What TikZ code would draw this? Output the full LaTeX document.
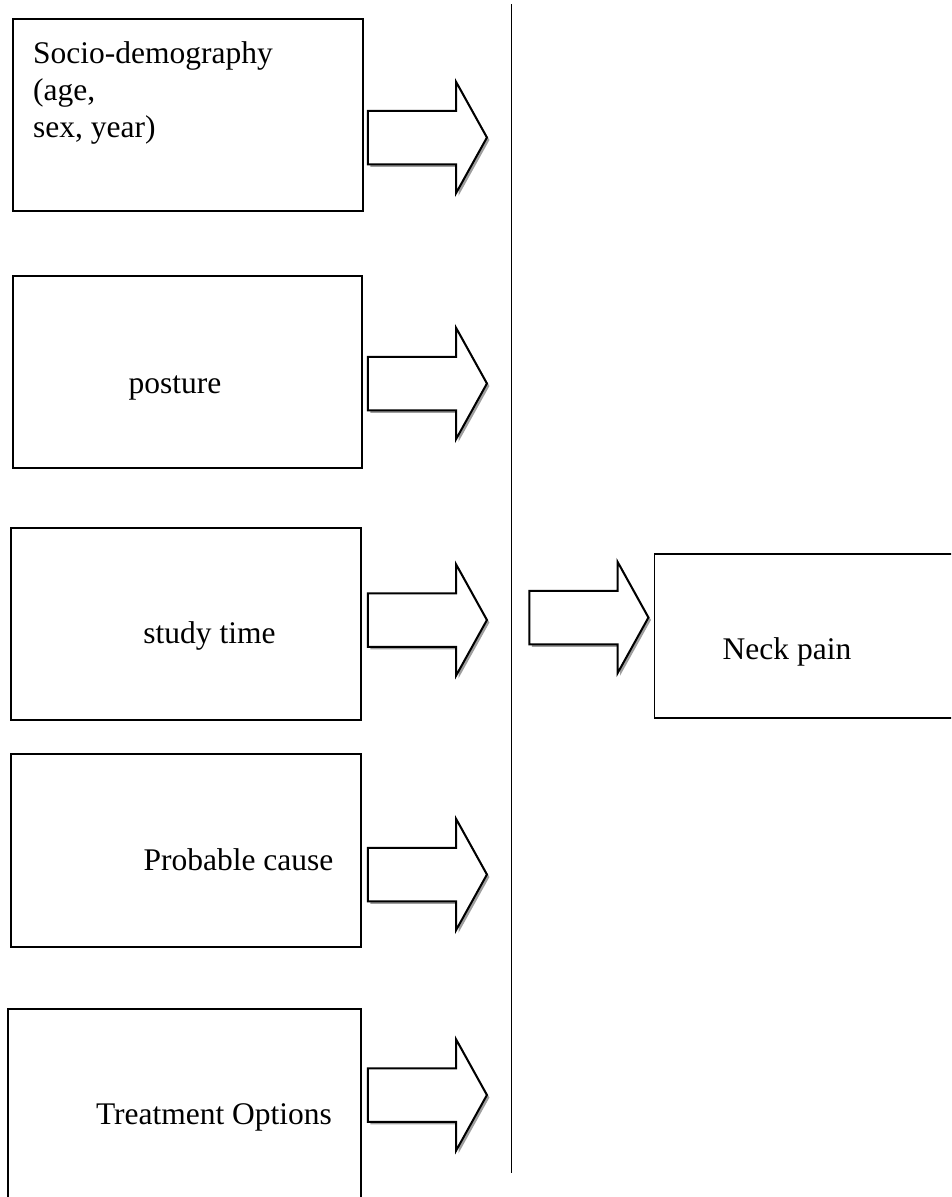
\documentclass[tikz,border=0pt]{standalone}
\usepackage{fontspec}
\setmainfont{Liberation Serif}
\usetikzlibrary{shapes.arrows,shadows}

\begin{document}
\begin{tikzpicture}[x=1pt,y=-1pt,
    factorbox/.style={draw,line width=1.5pt,rectangle,inner sep=0pt,anchor=north west},
    lbl/.style={inner sep=0pt,font=\fontsize{31.5}{37}\selectfont},
    blockarrow/.style={single arrow,draw,fill=white,line width=2pt,
        single arrow head extend=29pt,single arrow tip angle=122,
        single arrow head indent=0pt,minimum height=119pt,
        inner xsep=0pt,inner ysep=25.75pt,text height=0pt,text depth=0pt,
        drop shadow={shadow xshift=2.5pt,shadow yshift=-2.5pt,fill=black!38,opacity=1}}]
        \clip (0,0) rectangle (951,1197);

        % factor boxes
        \node[factorbox,minimum width=350pt,minimum height=192pt] (socio) at (12,18) {};
        \node[factorbox,minimum width=349pt,minimum height=192pt] (posture) at (12,275) {};
        \node[factorbox,minimum width=350pt,minimum height=192pt] (study) at (10,527) {};
        \node[factorbox,minimum width=350pt,minimum height=193pt] (cause) at (10,753) {};
        \node[factorbox,minimum width=353pt,minimum height=220pt] (treat) at (7,1008) {};

        \node[lbl,align=left,anchor=north west] (tsocio) at (33,41) {Socio-demography\\(age,\\sex, year)};
        \node[lbl,anchor=base] (tposture) at (175,393) {posture};
        \node[lbl,anchor=base] (tstudy) at (209.5,643) {study time};
        \node[lbl,anchor=base] (tcause) at (238.5,870) {Probable cause};
        \node[lbl,anchor=base] (ttreat) at (214,1124) {Treatment Options};

        % arrows into the divider
        \node[blockarrow] (asocio) at (420,137.5) {};
        \node[blockarrow] (aposture) at (420,383.5) {};
        \node[blockarrow] (astudy) at (420,620) {};
        \node[blockarrow] (acause) at (420,874.5) {};
        \node[blockarrow] (atreat) at (420,1095) {};

        \coordinate (divtop) at (511.5,4);
        \coordinate (divbot) at (511.5,1173);
        \draw[line width=1.8pt] (divtop) -- (divbot);

        % outcome
        \node[blockarrow] (aneck) at (581.5,617.5) {};
        \node[factorbox,minimum width=320pt,minimum height=164pt] (neck) at (653.5,553) {};
        \node[lbl,anchor=base] (tneck) at (787,659) {Neck pain};
    \end{tikzpicture}
\end{document}
